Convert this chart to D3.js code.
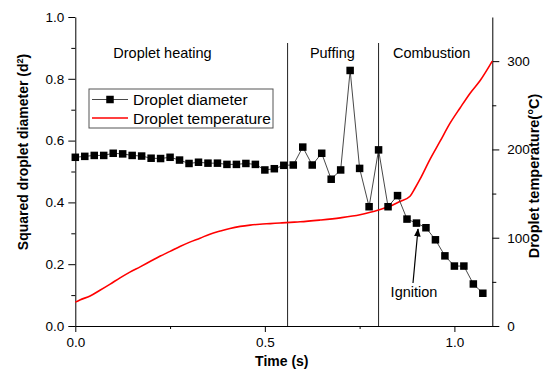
<!DOCTYPE html>
<html>
<head>
<meta charset="utf-8">
<script src="https://cdn.jsdelivr.net/npm/d3@7"></script>
<style>
  body { margin: 0; background: #fff; }
  svg { font-family: "Liberation Sans", Arial, sans-serif; }
</style>
</head>
<body>
<svg width="547" height="372"></svg>
<script>
// squared diameter, sampled every 0.025 s
const diamTime = [0, 0.025, 0.05, 0.075, 0.1, 0.125, 0.15, 0.175, 0.2, 0.225, 0.25, 0.275, 0.3, 0.325, 0.35, 0.375, 0.4, 0.425, 0.45, 0.475,
  0.5, 0.525, 0.55, 0.575, 0.6, 0.625, 0.65, 0.675, 0.7, 0.725, 0.75, 0.775, 0.8, 0.825, 0.85, 0.875, 0.9, 0.925, 0.95, 0.975,
  1.0, 1.025, 1.05, 1.075];
const diamValue = [0.546, 0.549, 0.552, 0.552, 0.559, 0.557, 0.552, 0.550, 0.543, 0.542, 0.546, 0.537, 0.526, 0.530, 0.527, 0.527, 0.523, 0.523, 0.526, 0.523,
  0.505, 0.509, 0.520, 0.521, 0.579, 0.521, 0.559, 0.475, 0.505, 0.827, 0.510, 0.386, 0.570, 0.386, 0.422, 0.346, 0.333, 0.318, 0.279, 0.227,
  0.194, 0.194, 0.136, 0.106];

// droplet temperature (°C)
const tempTime = [0, 0.012, 0.039, 0.065, 0.092, 0.118, 0.144, 0.171, 0.197, 0.223, 0.25, 0.276, 0.302, 0.329, 0.355, 0.382, 0.408, 0.435, 0.461, 0.487,
  0.514, 0.54, 0.567, 0.593, 0.646, 0.699, 0.751, 0.804, 0.83, 0.856, 0.883, 0.896, 0.909, 0.936, 0.962, 0.989, 1.015, 1.042, 1.068, 1.1];
const tempValue = [27, 29.5, 34, 40.5, 47.5, 54.5, 61, 67, 73, 79, 84.5, 90, 95, 99.5, 104, 107.5, 110.5, 112.8, 114.3, 115.3,
  116, 116.7, 117.4, 118, 120, 122.5, 126, 132, 135.6, 141, 147, 156, 166, 189, 209, 230, 247, 264, 278, 300];

const xTicks = [0, 0.5, 1.0];
const yTicks = [0, 0.2, 0.4, 0.6, 0.8, 1.0];
const y2Ticks = [0, 100, 200, 300];
const phaseBounds = [0.56, 0.80];
const phaseLabels = ['Droplet heating', 'Puffing', 'Combustion'];
const phaseLabelX = [0.23, 0.678, 0.94];

const svg = d3.select('svg');
const plotL = 75.3, plotR = 492.3, plotT = 17, plotB = 326;

const x = d3.scaleLinear().domain([0, 1.1]).range([plotL, plotR]);
const y = d3.scaleLinear().domain([0, 1]).range([plotB, plotT]);
const y2 = d3.scaleLinear().domain([0, 350]).range([plotB, plotT]);

// axes
const fmt1 = d3.format('.1f');
const styleAxis = g => {
  g.selectAll('path, line').attr('stroke', '#000').attr('stroke-width', 1);
  g.selectAll('text').attr('font-size', '13.5px').attr('fill', '#000');
};

// minor ticks first
svg.append('g').attr('transform', `translate(0,${plotB})`)
  .call(d3.axisBottom(x).tickValues([0.25, 0.75]).tickSize(3).tickFormat(''))
  .call(styleAxis).select('.domain').remove();
svg.append('g').attr('transform', `translate(${plotL},0)`)
  .call(d3.axisLeft(y).tickValues([0.1, 0.3, 0.5, 0.7, 0.9]).tickSize(4).tickFormat(''))
  .call(styleAxis).select('.domain').remove();
svg.append('g').attr('transform', `translate(${plotR},0)`)
  .call(d3.axisRight(y2).tickValues([50, 150, 250]).tickSize(4).tickFormat(''))
  .call(styleAxis).select('.domain').remove();

svg.append('g').attr('transform', `translate(0,${plotB})`)
  .call(d3.axisBottom(x).tickValues(xTicks).tickSize(6).tickPadding(5).tickSizeOuter(0).tickFormat(fmt1))
  .call(styleAxis);
svg.append('g').attr('transform', `translate(${plotL},0)`)
  .call(d3.axisLeft(y).tickValues(yTicks).tickSize(7).tickPadding(4).tickSizeOuter(0).tickFormat(fmt1))
  .call(styleAxis);
svg.append('g').attr('transform', `translate(${plotR},0)`)
  .call(d3.axisRight(y2).tickValues(y2Ticks).tickSize(7).tickPadding(8).tickSizeOuter(0))
  .call(styleAxis);

// axis titles
svg.append('text').attr('x', (plotL + plotR) / 2 - 2).attr('y', 366)
  .attr('text-anchor', 'middle').attr('font-weight', 'bold').attr('font-size', '14px')
  .text('Time (s)');
const yt = svg.append('text').attr('transform', 'translate(28,152) rotate(-90)')
  .attr('text-anchor', 'middle').attr('font-weight', 'bold').attr('font-size', '14px');
yt.append('tspan').text('Squared droplet diameter (d');
yt.append('tspan').attr('font-size', '9px').attr('dy', -5).text('2');
yt.append('tspan').attr('dy', 5).text(')');
svg.append('text').attr('transform', 'translate(539,176) rotate(-90)')
  .attr('text-anchor', 'middle').attr('font-weight', 'bold').attr('font-size', '14.5px')
  .text('Droplet temperature(°C)');

// phase separators + labels
svg.selectAll('.phase').data(phaseBounds).enter().append('line')
  .attr('x1', d => x(d)).attr('x2', d => x(d))
  .attr('y1', 43).attr('y2', plotB)
  .attr('stroke', '#222').attr('stroke-width', 1);
svg.selectAll('.plabel').data(phaseLabels).enter().append('text')
  .attr('x', (d, i) => x(phaseLabelX[i])).attr('y', 58)
  .attr('text-anchor', 'middle').attr('font-size', '14.5px')
  .text(d => d);

// temperature curve
const tempData = tempTime.map((t, i) => [t, tempValue[i]]);
svg.append('path').datum(tempData)
  .attr('fill', 'none').attr('stroke', '#ff0000').attr('stroke-width', 1.6)
  .attr('d', d3.line().x(d => x(d[0])).y(d => y2(d[1])).curve(d3.curveMonotoneX));

// diameter series
const diamData = diamTime.map((t, i) => [t, diamValue[i]]);
svg.append('path').datum(diamData)
  .attr('fill', 'none').attr('stroke', '#333').attr('stroke-width', 0.9)
  .attr('d', d3.line().x(d => x(d[0])).y(d => y(d[1])));
const sq = 7.5;
svg.selectAll('.pt').data(diamData).enter().append('rect')
  .attr('x', d => x(d[0]) - sq / 2).attr('y', d => y(d[1]) - sq / 2)
  .attr('width', sq).attr('height', sq).attr('fill', '#000');

// legend
const lg = svg.append('g');
lg.append('rect').attr('x', 89).attr('y', 89).attr('width', 184).attr('height', 39)
  .attr('fill', '#fff').attr('stroke', '#555').attr('stroke-width', 1);
lg.append('line').attr('x1', 92).attr('x2', 128).attr('y1', 99.5).attr('y2', 99.5)
  .attr('stroke', '#333').attr('stroke-width', 0.9);
lg.append('rect').attr('x', 110 - sq / 2).attr('y', 99.5 - sq / 2).attr('width', sq).attr('height', sq).attr('fill', '#000');
lg.append('line').attr('x1', 92).attr('x2', 128).attr('y1', 118).attr('y2', 118)
  .attr('stroke', '#ff0000').attr('stroke-width', 1.6);
lg.append('text').attr('x', 133).attr('y', 105).attr('font-size', '15.5px').text('Droplet diameter');
lg.append('text').attr('x', 133).attr('y', 123.5).attr('font-size', '15.5px').text('Droplet temperature');

// ignition annotation
svg.append('defs').append('marker').attr('id', 'arr')
  .attr('viewBox', '0 0 10 10').attr('refX', 9).attr('refY', 5)
  .attr('markerWidth', 7).attr('markerHeight', 7).attr('orient', 'auto')
  .append('path').attr('d', 'M0,1 L10,5 L0,9 Z').attr('fill', '#000');
svg.append('line').attr('x1', 413).attr('y1', 283).attr('x2', 418).attr('y2', 229)
  .attr('stroke', '#000').attr('stroke-width', 1.2).attr('marker-end', 'url(#arr)');
svg.append('text').attr('x', 414).attr('y', 297).attr('text-anchor', 'middle')
  .attr('font-size', '14.5px').text('Ignition');
</script>
</body>
</html>
